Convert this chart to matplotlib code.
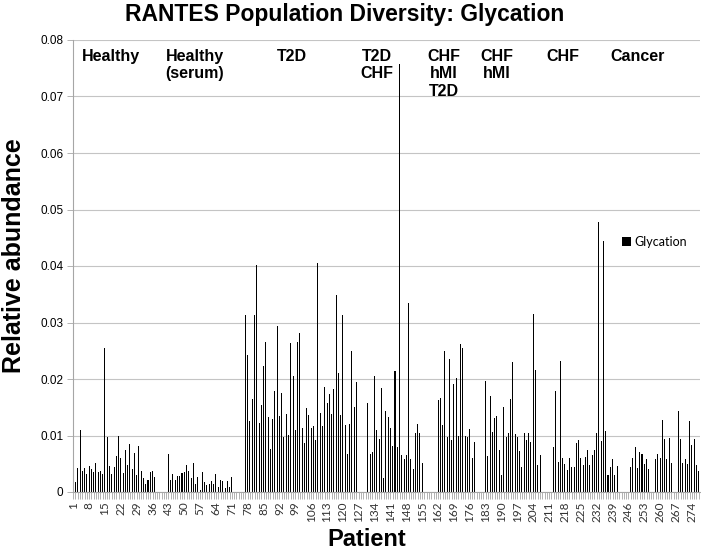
import numpy as np
import matplotlib
matplotlib.use("Agg")
import matplotlib.pyplot as plt

plt.rcParams['font.family'] = ['Liberation Sans', 'DejaVu Sans']

# relative abundance per patient, one list per run of bars
n_patients = 277
healthy = [0.0046, 0.0017, 0.0043, 0.011, 0.0038, 0.0042, 0.0032, 0.0046, 0.004, 0.0036,
           0.0052, 0.0035, 0.0038, 0.0032, 0.0254, 0.0098, 0.0046, 0.0032, 0.0044, 0.0064,
           0.0099, 0.0061, 0.0033, 0.0074, 0.0047, 0.0085, 0.0041, 0.0069, 0.003, 0.0081,
           0.0038, 0.0025, 0.0014, 0.0021, 0.0036, 0.0037, 0.0027]
serum = [0.0067, 0.0021, 0.0032, 0.0021, 0.0029, 0.0029, 0.0034, 0.0036, 0.0047, 0.0038,
         0.0025, 0.0052, 0.0014, 0.0026, 0.0003, 0.0035, 0.0017, 0.0012, 0.0014, 0.0019,
         0.0014, 0.0032, 0.0009, 0.0022, 0.002, 0.0007, 0.002, 0.0008, 0.0026]
t2d = [0.0313, 0.0242, 0.0126, 0.0164, 0.0313, 0.0401, 0.0122, 0.0154, 0.0223, 0.0266,
       0.0132, 0.0076, 0.0129, 0.0178, 0.0294, 0.0135, 0.0175, 0.0098, 0.0138, 0.0101,
       0.0264, 0.0205, 0.011, 0.0266, 0.0281, 0.0114, 0.0086, 0.0149, 0.0137, 0.0113,
       0.0116, 0.0092, 0.0405, 0.0139, 0.0117, 0.0185, 0.0158, 0.0173, 0.0138, 0.0183,
       0.0349, 0.021, 0.0136, 0.0314, 0.0119, 0.0067, 0.012, 0.025, 0.0151, 0.0195]
t2d_chf = [0.0157, 0.0068, 0.007, 0.0205, 0.011, 0.0093, 0.0184, 0.0025, 0.0144, 0.0132,
           0.0113, 0.0081, 0.0215, 0.0079, 0.0758, 0.0066, 0.0058, 0.0065, 0.0334, 0.0059,
           0.0041, 0.0105, 0.0121, 0.0105, 0.0051]
chf_hmi_t2d = [0.0163, 0.0166, 0.0118, 0.0249, 0.0098, 0.0236, 0.0092, 0.0192, 0.0202, 0.01,
               0.0262, 0.0254, 0.0099, 0.0097, 0.0111, 0.006, 0.0088]
chf_hmi = [0.0196, 0.0063, 0.017, 0.0107, 0.0131, 0.0135, 0.0074, 0.003, 0.015, 0.0098,
           0.0104, 0.0165, 0.023, 0.0103, 0.0097, 0.0073, 0.0045, 0.0104, 0.0092, 0.0104,
           0.0088, 0.0315, 0.0216, 0.0048, 0.0065]
chf = [0.008, 0.0178, 0.0053, 0.0232, 0.0061, 0.005, 0.0039, 0.006, 0.0045, 0.0045,
       0.0086, 0.0092, 0.0061, 0.0047, 0.0062, 0.0074, 0.0047, 0.0065, 0.0074, 0.0104,
       0.0477, 0.0091, 0.0444, 0.0108, 0.003, 0.0045, 0.0058, 0.003, 0.0046]
cancer = [0.0045, 0.0061, 0.0079, 0.0042, 0.0071, 0.0067, 0.005, 0.0059, 0.0041, 0, 0,
          0.0058, 0.0068, 0.0061, 0.0127, 0.0094, 0.0059, 0.0096, 0.0052, 0, 0,
          0.0143, 0.0094, 0.0052, 0.0058, 0.005, 0.0126, 0.0083, 0.0094, 0.0048, 0.0038]
group_starts = [1, 43, 77, 131, 162, 183, 213, 247]

group_names = ['Healthy', 'Healthy\n(serum)', 'T2D', 'T2D\nCHF', 'CHF\nhMI\nT2D',
               'CHF\nhMI', 'CHF', 'Cancer']
y_ticks = [0, 0.01, 0.02, 0.03, 0.04, 0.05, 0.06, 0.07, 0.08]
y_labels = ['0', '0.01', '0.02', '0.03', '0.04', '0.05', '0.06', '0.07', '0.08']

patients = np.arange(1, n_patients + 1)
values = np.zeros(n_patients)
for start, vals in zip(group_starts, [healthy, serum, t2d, t2d_chf, chf_hmi_t2d, chf_hmi, chf, cancer]):
    values[start - 1:start - 1 + len(vals)] = vals

W, H = 701, 551
fig = plt.figure(figsize=(W / 100, H / 100), dpi=100)
ax = fig.add_axes([73 / W, 1 - 492 / H, 627 / W, 452 / H])

ax.bar(patients, values, width=0.45, color='black', linewidth=0, label='Glycation')

ax.set_xlim(0.9, 277.6)
ax.set_ylim(0, 0.08)
ax.set_yticks(y_ticks)
ax.set_yticklabels(y_labels)
major = list(range(1, n_patients, 7))
ax.set_xticks(major)
ax.set_xticklabels([str(p) for p in major], rotation=90, family='Lato', fontsize=8.5, color='#333333')
ax.set_xticks([p for p in patients if p not in major], minor=True)
ax.tick_params(axis='x', which='both', length=5, width=0.6, color='#a6a6a6', pad=2)
ax.tick_params(axis='y', length=4, width=0.6, color='#a6a6a6', labelsize=8.5, pad=3)

ax.grid(axis='y', color='#c4c4c4', linewidth=0.8)
ax.set_axisbelow(True)
for side in ['top', 'right']:
    ax.spines[side].set_visible(False)
for side in ['left', 'bottom']:
    ax.spines[side].set_color('#a6a6a6')
    ax.spines[side].set_linewidth(0.8)

ax.legend(loc='center left', bbox_to_anchor=(0.876, 0.553), frameon=False,
          handlelength=0.7, handleheight=0.7, handletextpad=0.3, borderpad=0,
          borderaxespad=0, prop={'family': 'Lato', 'size': 9})

# group captions across the top
label_x = [111, 195, 292, 377, 444, 497, 563, 638]
for name, xp in zip(group_names, label_x):
    fig.text(xp / W, 1 - 49 / H, name, ha='center', va='top', fontsize=11.5,
             fontweight='bold', linespacing=1.2)

fig.text(345 / W, 1 - 15 / H, 'RANTES Population Diversity: Glycation', ha='center', va='center',
         fontsize=16.5, fontweight='bold')
fig.text(14 / W, 1 - 256 / H, 'Relative abundance', rotation=90, ha='center', va='center',
         fontsize=18, fontweight='bold')
fig.text(367 / W, 1 - 540 / H, 'Patient', ha='center', va='center', fontsize=17, fontweight='bold')

fig.savefig('out.png', dpi=100)
